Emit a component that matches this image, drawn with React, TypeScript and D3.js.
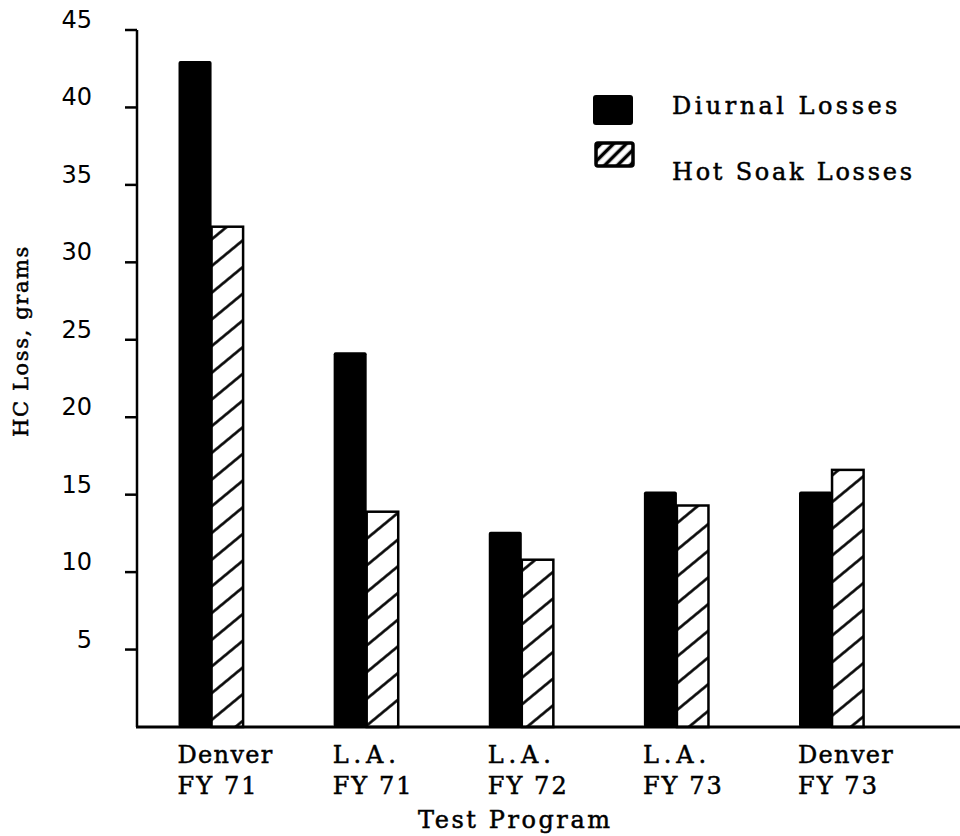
import React from "react";
import * as d3 from "d3";

const categoryLine1 = ["Denver", "L.A.", "L.A.", "L.A.", "Denver"];
const categoryLine2 = ["FY 71", "FY 71", "FY 72", "FY 73", "FY 73"];
const categories = categoryLine1.map((c, i) => `${c} ${categoryLine2[i]}`);
const seriesNames = ["Diurnal Losses", "Hot Soak Losses"];
const diurnal = [43.0, 24.2, 12.6, 15.2, 15.2];
const hotSoak = [32.3, 13.9, 10.8, 14.3, 16.6];
const yTicks = [5, 10, 15, 20, 25, 30, 35, 40, 45];

const W = 960;
const H = 836;
const SERIF = "'DejaVu Serif', 'Liberation Serif', serif";
const SANS = "'DejaVu Sans', 'Liberation Sans', sans-serif";

function TypeText(props: {
  x: number;
  y: number;
  text: string;
  pitch: number;
  size: number;
  anchor?: "start" | "middle" | "end";
  transform?: string;
}) {
  const { x, y, text, pitch, size, anchor, transform } = props;
  return (
    <text
      x={x}
      y={y}
      transform={transform}
      fontFamily={SERIF}
      fontSize={size}
      textAnchor={anchor || "start"}
      textLength={text.length * pitch}
      lengthAdjust="spacing"
      fill="#000"
      stroke="#000"
      strokeWidth={0.5}
    >
      {text}
    </text>
  );
}

export default function App() {
  const x = d3
    .scaleBand<string>()
    .domain(categories)
    .range([134, 909.6])
    .paddingInner(0.574)
    .paddingOuter(0.287);
  const xs = d3.scaleBand<string>().domain(seriesNames).range([0, x.bandwidth()]);
  const y = d3.scaleLinear().domain([0, 45]).range([727, 30]);
  const axisX = 137;
  const rows = categories.map((c, i) => ({ c, i, d: diurnal[i], h: hotSoak[i] }));

  return (
    <svg
      width={W}
      height={H}
      viewBox={`0 0 ${W} ${H}`}
      style={{ position: "absolute", left: 0, top: 0, background: "#fff", display: "block" }}
    >
      <defs>
        <pattern
          id="hatch"
          patternUnits="userSpaceOnUse"
          width={20.6}
          height={20.6}
          patternTransform="rotate(50.5)"
        >
          <rect width={20.6} height={20.6} fill="#fff" />
          <line x1={10.3} y1={0} x2={10.3} y2={20.6} stroke="#000" strokeWidth={2.6} />
        </pattern>
        <pattern
          id="hatchLegend"
          patternUnits="userSpaceOnUse"
          width={9}
          height={9}
          patternTransform="rotate(45)"
        >
          <rect width={9} height={9} fill="#fff" />
          <line x1={4.5} y1={0} x2={4.5} y2={9} stroke="#000" strokeWidth={3.5} />
        </pattern>
      </defs>

      {/* bars */}
      {rows.map((r) => {
        const x0 = x(r.c)!;
        const xd = x0 + xs(seriesNames[0])!;
        const xh = x0 + xs(seriesNames[1])!;
        const bw = xs.bandwidth();
        return (
          <g key={r.c}>
            <rect x={xd} y={y(r.d)} width={bw} height={y(0) - y(r.d)} fill="#000" rx={2} />
            <rect
              x={xh}
              y={y(r.h)}
              width={bw - 1.5}
              height={y(0) - y(r.h)}
              fill="url(#hatch)"
              stroke="#000"
              strokeWidth={2.5}
            />
          </g>
        );
      })}

      {/* y axis */}
      <line x1={axisX} y1={y(45)} x2={axisX} y2={y(0)} stroke="#000" strokeWidth={2.5} />
      {yTicks.map((t) => (
        <g key={t}>
          <line x1={axisX - 12} y1={y(t)} x2={axisX} y2={y(t)} stroke="#000" strokeWidth={2.5} />
          <text
            x={92}
            y={y(t) - 2}
            textAnchor="end"
            fontSize={24}
            fontFamily={SANS}
            fill="#000"
          >
            {t}
          </text>
        </g>
      ))}
      {/* baseline */}
      <line x1={axisX - 1} y1={y(0)} x2={W} y2={y(0)} stroke="#000" strokeWidth={3} />

      {/* category labels */}
      {categories.map((c, i) => (
        <g key={c}>
          <TypeText x={x(c)! - 1} y={763} text={categoryLine1[i]} pitch={15.8} size={24} />
          <TypeText x={x(c)! - 1} y={794} text={categoryLine2[i]} pitch={15.8} size={24} />
        </g>
      ))}
      <TypeText x={418} y={828} text="Test Program" pitch={16} size={24} />

      {/* y title */}
      <TypeText
        x={0}
        y={0}
        transform="translate(28,437) rotate(-90)"
        text="HC Loss, grams"
        pitch={13.6}
        size={21}
      />

      {/* legend */}
      <rect x={593} y={95} width={40} height={30} rx={3} fill="#000" />
      <rect
        x={596}
        y={143}
        width={37}
        height={23}
        rx={2}
        fill="url(#hatchLegend)"
        stroke="#000"
        strokeWidth={3.5}
      />
      <TypeText x={672} y={114} text={seriesNames[0]} pitch={16.1} size={24} />
      <TypeText x={672} y={180} text={seriesNames[1]} pitch={16} size={24} />
    </svg>
  );
}
